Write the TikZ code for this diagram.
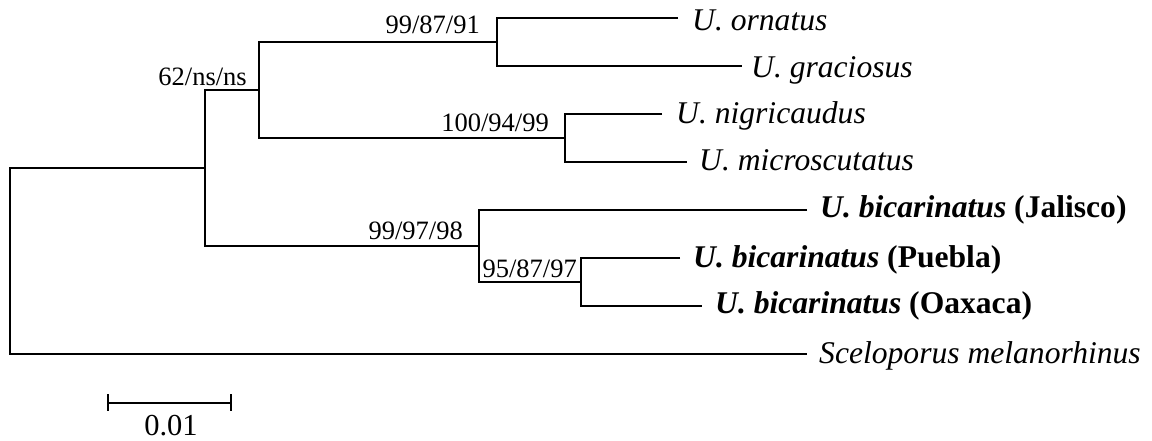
\documentclass[tikz,border=0pt]{standalone}
\usepackage{fontspec}
\setmainfont{Liberation Serif}
\usetikzlibrary{calc}
\begin{document}
\begin{tikzpicture}[x=1pt,y=-1pt,
  branch/.style={line width=1.4pt, line join=miter},
  taxon/.style={anchor=base west, inner sep=0pt, font=\fontsize{31.6}{35}\selectfont},
  support/.style={anchor=base east, inner sep=0pt, font=\fontsize{26.5}{30}\selectfont}]
\useasboundingbox (0,0) rectangle (1152,441);

% internal nodes (x of the vertical bar, y of its midpoint)
\coordinate (R) at (10,261);
\coordinate (A) at (205,168);
\coordinate (B) at (259,90);
\coordinate (C) at (497,42);
\coordinate (D) at (565,138);
\coordinate (E) at (479,246);
\coordinate (F) at (581,282);

% branch tips
\coordinate (t1) at (678,18);
\coordinate (t2) at (742,66);
\coordinate (t3) at (662,114);
\coordinate (t4) at (687,162);
\coordinate (t5) at (807,210);
\coordinate (t6) at (680,258);
\coordinate (t7) at (702,306);
\coordinate (t8) at (807,354);

% taxon labels
\node[taxon] (orn) at ($(t1)+(14,13)$) {\textit{U. ornatus}};
\node[taxon] (gra) at ($(t2)+(9,12)$) {\textit{U. graciosus}};
\node[taxon] (nig) at ($(t3)+(14,10)$) {\textit{U. nigricaudus}};
\node[taxon] (mic) at ($(t4)+(12,9)$) {\textit{U. microscutatus}};
\node[taxon] (jal) at ($(t5)+(13,8)$) {\textbf{\textit{U. bicarinatus}} \textbf{(Jalisco)}};
\node[taxon] (pue) at ($(t6)+(13,9)$) {\textbf{\textit{U. bicarinatus}} \textbf{(Puebla)}};
\node[taxon] (oax) at ($(t7)+(13,7)$) {\textbf{\textit{U. bicarinatus}} \textbf{(Oaxaca)}};
\node[taxon] (sce) at ($(t8)+(12,9)$) {\textit{Sceloporus melanorhinus}};

% tree branches
\draw[branch] (A) -| (R) |- (t8);
\draw[branch] (B) -| (A) |- (E);
\draw[branch] (C) -| (B) |- (D);
\draw[branch] (t1) -| (C) |- (t2);
\draw[branch] (t3) -| (D) |- (t4);
\draw[branch] (t5) -| (E) |- (F);
\draw[branch] (t6) -| (F) |- (t7);

% support values
\node[support] (sA) at ($(B)+(-12,-4)$) {62/ns/ns};
\node[support] (sC) at ($(C)+(-17,-8)$) {99/87/91};
\node[support] (sD) at ($(D)+(-16,-6)$) {100/94/99};
\node[support] (sE) at ($(E)+(-16,-7)$) {99/97/98};
\node[support] (sF) at ($(F)+(-4,-5)$) {95/87/97};

% scale bar
\coordinate (s0) at (108,403);
\coordinate (s1) at (231,403);
\draw[branch] (s0) -- (s1);
\draw[branch] ($(s0)+(0,-9)$) -- ($(s0)+(0,8)$);
\draw[branch] ($(s1)+(0,-9)$) -- ($(s1)+(0,8)$);
\node[anchor=base, inner sep=0pt, font=\fontsize{30.5}{34}\selectfont] (sl) at (171,435) {0.01};
\end{tikzpicture}
\end{document}
